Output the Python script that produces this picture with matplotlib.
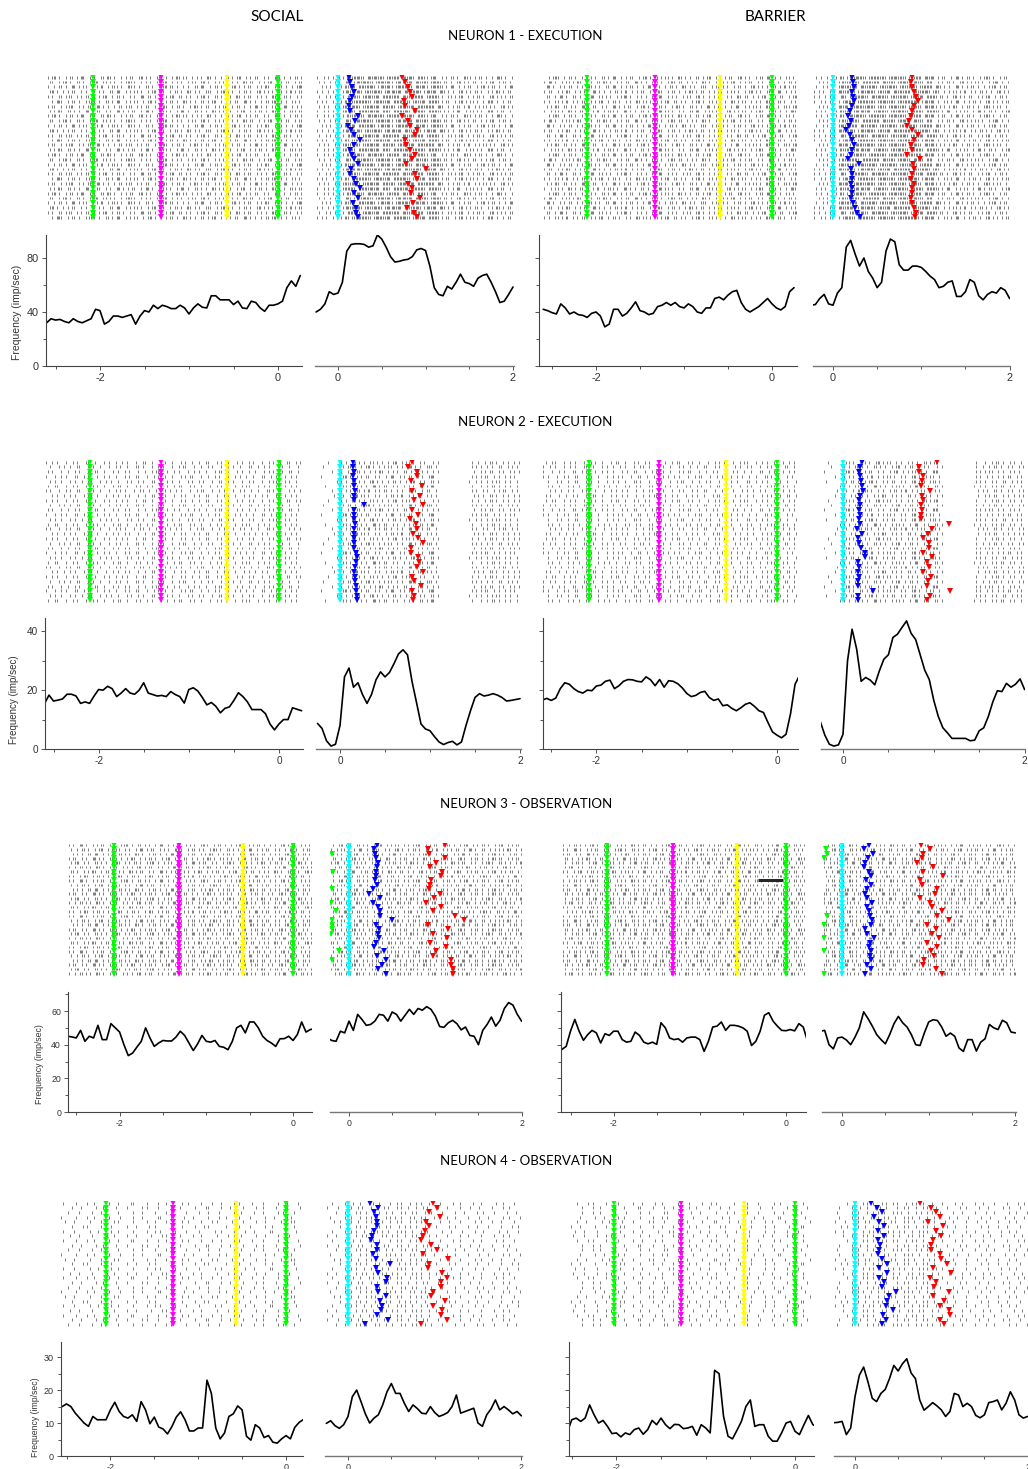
import numpy as np
import matplotlib.pyplot as plt
from matplotlib.ticker import MultipleLocator

plt.rcParams['font.family'] = ['Liberation Sans', 'DejaVu Sans']
plt.rcParams['axes.unicode_minus'] = False

W, H = 1028, 1469
BIN = 0.025  # one character of a raster row = 25 ms

# time grid of the rate curves (s): 'pre' aligned on the last green event, 'post' on cyan
t_pre = np.round(np.arange(-2.60, 0.251, 0.05), 2)
t_post = np.round(np.arange(-0.25, 2.001, 0.05), 2)

# --- firing rate (imp/sec) ---
n1_social_pre = [32, 35, 34, 34.5, 33, 32, 35, 33, 32, 33.5, 35, 42, 41, 31, 33, 37, 37, 36, 37, 38,
                 31, 37, 41, 40, 45, 42.5, 45, 44, 42.5, 42.5, 45, 43, 38.5, 43, 46, 43.5, 43, 52, 52, 49,
                 49, 49, 45.5, 48, 43, 42.5, 48, 47, 43, 40.5, 45, 45, 46, 48, 58, 63, 59, 67]
n1_social_post = [40, 42, 46, 55, 53, 54, 62, 85, 90, 90.5, 90.5, 90, 88, 89, 97, 94, 88, 81, 77, 77.5,
                  78.5, 79, 81, 86, 87, 85.5, 74, 58, 53, 52, 59, 57, 62, 68, 62, 61, 59, 65, 67, 68,
                  62, 55, 47, 48, 53, 58.5]
n1_barrier_pre = [42, 41, 39.5, 38.5, 46, 43, 38.5, 40, 38, 37.5, 36, 39, 40, 37, 29, 31, 42, 42, 37, 39,
                  43, 47.5, 41, 40, 38, 39, 44, 45, 47, 45, 47, 44, 43, 46, 44, 40, 39, 43, 43, 50,
                  51, 49, 52.5, 55, 56, 47, 42, 40, 42, 44, 47, 50, 46, 43, 41.5, 44, 55, 58]
n1_barrier_post = [45, 45.5, 50, 53, 46, 45, 54, 58, 88, 93, 83, 74, 80, 70, 65, 58, 62, 85, 94, 92,
                   75, 71, 71, 74, 74, 73, 70, 66.5, 64, 58, 59, 62, 63, 51.5, 51.5, 55, 64, 62, 52, 49,
                   53, 55, 54, 58, 56, 50]

n2_social_pre = [15.4, 18.3, 16.3, 16.6, 17, 18.6, 18.6, 18, 15.5, 16, 15.5, 18, 20.2, 20, 21.3, 20.5,
                 17.8, 19, 20.5, 19, 18.6, 20, 22.5, 19, 18.5, 18, 18.2, 17.8, 19.5, 18.5, 17.8, 15.6,
                 20.2, 20.8, 19.7, 17.5, 15, 15.8, 14.5, 12.3, 13.8, 14.3, 16.5, 19.1, 17.8, 16, 13.4,
                 13.4, 13.4, 12, 8.5, 6.5, 8.5, 10, 10, 14, 13.5, 13]
n2_social_post = [8.7, 7, 2.8, 1, 1.6, 8, 24.5, 27.5, 21, 22.5, 18.5, 15.5, 18.5, 23.5, 26.2, 24.5, 26,
                  29, 32.3, 33.7, 32, 23, 15.8, 8.5, 6.8, 6.2, 4.2, 2.4, 1.5, 2.2, 2.6, 1.4, 2.4, 8, 13,
                  17.5, 18.8, 18, 18.3, 18.8, 18.3, 17.5, 16.3, 16.5, 16.8, 17.1]
n2_barrier_pre = [16.6, 17.2, 16.5, 17.3, 20.5, 22.5, 22, 20.5, 19.5, 19, 20, 19.8, 21.4, 21.7, 23, 23.4,
                  20.5, 21.5, 23, 23.6, 23.5, 23, 22.8, 24.5, 23.5, 21.5, 23.6, 21, 23.2, 23, 22.2, 20.8,
                  18.9, 17.8, 18.2, 19.2, 19.6, 17.5, 16.5, 17, 14.7, 15, 13.8, 13, 14, 15.2, 15.7,
                  14.5, 13, 12.4, 9, 5.8, 4.7, 3.8, 5, 12, 22, 25]
n2_barrier_post = [9.3, 4.7, 1.6, 1, 1.4, 5, 30, 40.7, 34, 23, 24.3, 23.4, 21.8, 26.5, 30.5, 32, 37.9, 39,
                   41.3, 43.5, 39.3, 37.2, 32, 26.8, 23.6, 16.5, 11, 7.2, 5.5, 3.6, 3.6, 3.6, 3.6, 2.8,
                   3, 6.2, 7.2, 11, 16, 19.8, 19.5, 22.3, 21, 22, 23.8, 20.2]

n3_social_pre = [45, 44.6, 44, 48.5, 42, 45, 44, 51.5, 43, 43, 52.5, 50, 47.5, 40, 33.5, 35, 38.6, 42, 50,
                 44, 39, 41, 42.5, 42.2, 42.2, 44.5, 48, 45.5, 41, 36.5, 40.5, 45.5, 42, 41.5, 42.5, 39,
                 38.5, 37, 42, 50, 51.5, 47, 53.5, 53.5, 50, 45, 42.5, 41, 39, 43.5, 43.6, 45, 42.5,
                 46, 53.5, 47.5, 49, 49.5]
n3_social_post = [44, 42.5, 42, 48, 47, 54, 48.5, 58, 55, 51.5, 52, 54, 58, 57.5, 54, 59.4, 58, 54, 57.5,
                  61, 58, 61.5, 60.5, 62.6, 61, 57, 50.8, 50.3, 53, 54.5, 52.5, 48.8, 50.5, 45.5, 45,
                  40, 48.5, 52, 56.4, 51, 54.5, 61.5, 65, 63.5, 58, 54]
n3_barrier_pre = [37.2, 39, 48, 55, 48, 42.6, 46, 48.5, 47, 41, 46.5, 45.5, 48, 48, 43, 41.5, 42, 47.5,
                  45.5, 41.5, 40.5, 41.5, 40.2, 53, 50, 44, 43, 43.5, 41.5, 44, 44.5, 44.5, 43, 36, 42,
                  50.5, 51, 53.5, 48.5, 51.5, 51.5, 51, 50, 48, 39.5, 42, 48, 57.5, 59, 54, 51, 48.5,
                  48.3, 49, 48.2, 52.5, 50.5, 42]
n3_barrier_post = [48, 48.5, 40, 37.5, 44, 44.5, 42.8, 40, 44.5, 50, 59.5, 55.5, 51, 46, 43, 40.5, 46,
                   52.5, 56.8, 53, 50.5, 46, 40, 39.5, 47, 53.5, 54.8, 54.4, 50.5, 45, 46.9, 45, 38, 36,
                   43, 43, 36.2, 41.5, 43.5, 52, 50, 49, 54.5, 53, 47.5, 47]

n4_social_pre = [14.5, 15, 15.8, 15, 13, 11.5, 10, 9, 12, 11, 11, 11, 14, 16.3, 13.5, 12, 11.5, 12.5,
                 10.5, 16.5, 14, 9.8, 11.8, 8.8, 8.2, 6.7, 8.9, 11.8, 13.4, 11, 7.6, 7.6, 8.5, 8.5, 23,
                 19, 8.5, 5.2, 7, 12, 12.8, 15.2, 14, 6, 4.8, 9.5, 8.5, 5.6, 6.2, 4.2, 3.9, 5.2, 6.2,
                 5.2, 8.7, 10.2, 11.1, 11.2]
n4_social_post = [9.9, 10.7, 9.2, 8.4, 9.5, 12, 18, 20, 16.5, 12.8, 10, 11.5, 12.5, 15.5, 19.5, 22, 19,
                  19, 16, 13.5, 15.5, 14.4, 13, 12.8, 15, 13.2, 12, 12.5, 13.2, 15, 18.5, 13, 13.5, 14,
                  14.5, 10, 9, 12.5, 14.3, 17, 14, 15, 14, 12.8, 13.5, 12.2]
n4_barrier_pre = [7, 7.2, 11, 11.5, 10.5, 11.5, 15.5, 12.5, 10, 10.8, 9, 6.8, 7, 5.8, 7, 6.5, 8, 8.5,
                  6.6, 8, 10.8, 9.5, 11.5, 9.5, 8.3, 9.6, 9.5, 8.3, 8.5, 9, 6.3, 9.5, 8.5, 7, 26, 25,
                  12, 6, 5.2, 7.8, 10.5, 15, 17, 9, 9.5, 9.5, 6, 4.5, 4.5, 7, 10, 10.5, 7.5, 6.5, 9.5,
                  12.3, 9.5, 8.9]
n4_barrier_post = [10.1, 10.2, 10.5, 6.5, 8.5, 18, 24.5, 27, 22.5, 17.5, 16.5, 19, 20.2, 23.5, 27.5,
                   25.8, 28, 29.5, 25.2, 23.5, 17, 13.9, 15, 16.2, 15.2, 14, 12, 13.5, 19, 18.5, 15, 16,
                   15, 12.3, 11.6, 12.5, 16.2, 16.5, 17, 14, 16, 19.5, 17, 12.5, 11.5, 12]

# --- behavioural events ---
# pre panels: green, magenta, yellow, green (s)
n1_social_ev = [-2.08, -1.31, -0.57, 0.0]
n1_barrier_ev = [-2.10, -1.33, -0.59, 0.0]
n2_social_ev = [-2.09, -1.31, -0.58, 0.0]
n2_barrier_ev = [-2.08, -1.31, -0.57, 0.0]
n3_social_ev = [-2.07, -1.31, -0.58, 0.0]
n3_barrier_ev = [-2.08, -1.31, -0.57, 0.0]
n4_social_ev = [-2.05, -1.29, -0.57, 0.0]
n4_barrier_ev = [-2.03, -1.28, -0.57, 0.0]

# post panels: blue and red event of each trial (cyan is at 0)
n1_social_blue = [0.12, 0.14, 0.16, 0.18, 0.16, 0.14, 0.12, 0.14, 0.23, 0.19, 0.11, 0.15, 0.18, 0.25, 0.18,
                  0.14, 0.16, 0.18, 0.23, 0.15, 0.14, 0.18, 0.2, 0.25, 0.18, 0.23, 0.17, 0.2, 0.21, 0.23]
n1_social_red = [0.73, 0.77, 0.8, 0.82, 0.84, 0.75, 0.77, 0.88, 0.73, 0.8, 0.82, 0.9, 0.88, 0.77, 0.78,
                 0.82, 0.88, 0.84, 0.78, 1.01, 0.88, 0.9, 0.8, 0.85, 0.83, 0.94, 0.86, 0.79, 0.87, 0.9]
n1_barrier_blue = [0.21, 0.23, 0.24, 0.22, 0.23, 0.24, 0.22, 0.19, 0.17, 0.2, 0.18, 0.15, 0.19, 0.22, 0.24,
                   0.22, 0.2, 0.17, 0.29, 0.2, 0.21, 0.22, 0.2, 0.21, 0.22, 0.2, 0.23, 0.25, 0.27, 0.31]
n1_barrier_red = [0.9, 0.88, 0.9, 0.92, 0.94, 0.96, 0.92, 0.9, 0.88, 0.86, 0.84, 0.9, 0.96, 0.92, 0.88,
                  0.9, 0.84, 0.98, 0.91, 0.92, 0.9, 0.88, 0.92, 0.9, 0.89, 0.88, 0.9, 0.92, 0.94, 0.93]
n2_social_blue = [0.14, 0.14, 0.15, 0.14, 0.15, 0.16, 0.17, 0.16, 0.15, 0.27, 0.15, 0.16, 0.16, 0.17, 0.16,
                  0.15, 0.16, 0.15, 0.16, 0.18, 0.19, 0.18, 0.17, 0.16, 0.17, 0.17, 0.18, 0.18, 0.19, 0.19]
n2_social_red = [0.80, 0.76, 0.86, 0.85, 0.79, 0.91, 0.80, 0.89, 0.82, 0.92, 0.80, 0.87, 0.78, 0.84, 0.85,
                 0.81, 0.87, 0.92, 0.79, 0.79, 0.87, 0.88, 0.86, 0.92, 0.80, 0.82, 0.90, 0.80, 0.82, 0.81]
n2_barrier_blue = [0.21, 0.19, 0.18, 0.19, 0.2, 0.21, 0.22, 0.19, 0.18, 0.19, 0.18, 0.19, 0.18, 0.19, 0.15,
                   0.21, 0.16, 0.18, 0.2, 0.24, 0.24, 0.17, 0.18, 0.17, 0.18, 0.17, 0.17, 0.33, 0.16, 0.17]
n2_barrier_red = [1.03, 0.84, 0.84, 0.88, 0.87, 0.86, 0.96, 0.87, 0.88, 0.86, 0.87, 0.86, 0.86, 1.17, 0.98,
                  0.94, 0.88, 0.95, 0.95, 0.88, 0.98, 0.93, 0.95, 0.88, 0.97, 0.94, 0.93, 1.18, 0.96, 0.93]
n3_social_blue = [0.32, 0.29, 0.3, 0.31, 0.34, 0.32, 0.31, 0.31, 0.3, 0.32, 0.28, 0.23, 0.36, 0.28, 0.34,
                  0.36, 0.36, 0.5, 0.31, 0.35, 0.34, 0.35, 0.31, 0.29, 0.41, 0.32, 0.43, 0.38, 0.34, 0.43]
n3_social_red = [1.11, 0.92, 0.93, 1.11, 1.01, 0.94, 1.08, 1.07, 0.95, 0.94, 0.93, 1.05, 0.99, 0.89, 1.07,
                 0.97, 1.23, 1.33, 0.92, 1.15, 0.97, 1.13, 0.94, 1.12, 1.01, 0.97, 1.18, 1.18, 1.2, 1.2]
n3_barrier_blue = [0.31, 0.25, 0.36, 0.3, 0.27, 0.25, 0.31, 0.33, 0.28, 0.33, 0.29, 0.27, 0.29, 0.35, 0.29,
                   0.31, 0.32, 0.35, 0.33, 0.27, 0.29, 0.37, 0.32, 0.31, 0.33, 0.32, 0.33, 0.29, 0.33, 0.26]
n3_barrier_red = [0.91, 1.01, 0.94, 0.92, 0.86, 1.05, 0.94, 1.17, 0.9, 0.92, 1.1, 1.07, 0.9, 1.01, 1.04,
                  1.15, 1.1, 1.23, 0.98, 1.08, 1.04, 1.12, 0.98, 1.09, 1.03, 1.06, 0.95, 0.93, 1.08, 1.15]
n4_social_blue = [0.25, 0.35, 0.3, 0.32, 0.33, 0.33, 0.3, 0.28, 0.27, 0.34, 0.33, 0.29, 0.32, 0.49, 0.32,
                  0.35, 0.45, 0.44, 0.33, 0.35, 0.44, 0.37, 0.39, 0.38, 0.33, 0.46, 0.2]
n4_social_red = [0.98, 1.03, 0.94, 1.06, 0.9, 0.93, 0.89, 0.87, 0.84, 0.96, 1.03, 0.87, 1.15, 0.94, 0.92,
                 1.08, 1.14, 1.07, 1.07, 0.98, 0.96, 1.12, 0.98, 1.08, 1.07, 1.14, 0.84]
n4_barrier_blue = [0.19, 0.26, 0.31, 0.22, 0.28, 0.34, 0.27, 0.34, 0.27, 0.29, 0.28, 0.27, 0.31, 0.37, 0.28,
                   0.37, 0.28, 0.34, 0.31, 0.48, 0.39, 0.37, 0.36, 0.44, 0.32, 0.36, 0.31]
n4_barrier_red = [0.75, 0.88, 0.94, 0.98, 0.85, 1.02, 0.94, 1.0, 0.9, 0.88, 0.88, 0.99, 1.0, 1.07, 0.9,
                  1.11, 0.87, 0.94, 0.91, 1.09, 0.9, 1.03, 0.99, 1.09, 1.1, 0.99, 1.03]

# early green events seen at the left edge of the neuron 3 post panels (trial, time)
n3_social_early_rows = [2, 6, 10, 13, 15, 17, 18, 19, 20, 24, 26]
n3_social_early_t = [-0.2, -0.18, -0.2, -0.21, -0.15, -0.2, -0.2, -0.2, -0.21, -0.12, -0.2]
n3_barrier_early_rows = [1, 2, 3, 16, 18, 21, 24, 29]
n3_barrier_early_t = [-0.19, -0.17, -0.21, -0.17, -0.21, -0.21, -0.21, -0.21]
# burst in one barrier trial of neuron 3 (trial, start, end)
n3_barrier_burst = (8, -0.32, -0.03)

# --- spike rows: '|' one spike, ':' two spikes in a 25 ms bin (spaces are ignored) ---
n1_pre_rows = [
    "|.|:.|..|. ||.|.:|..| .|..||.:|. |..|.|.||. .|:.|.|..| ||.|..|.:| .||..|.|.| ..:|.|..|. ||.|.|:..| .|.||..|.| ..|:|.|..| .||.|.:.|.",
    ".||..|.|:. |..||.|..| .|:..||.|. |..|.||:.| ..|.|.|..| |.|:..|.|. |..|.||..| :.|..|.|.| |..|.|..:| .||..|.|.| :..|.|.||. .|.|:..|.|",
    "|..|.||.|. .:|.|.||.. |.|.:..|.| ||.|..|:.| .|..||.|.. |.|:.||.|. .|.|..||.: |..|.||.|. |..|:.|.|. ||..|.|.:| ..|.||.|.. |.|:|.|.||",
    ".|:.|..|.| .||..|.|.. :|.|.|..|| .|:..|.|.| |.|..|.|:. |.|..|.||. |..:|.|.|. .|||..|.|: .|.|..|.|| .|..|:.|.| .|..||.|.: .|.||.|..|",
    "|.|..||.|. :..|.|.||. .|.|.|:..| .||.|..|.| ..:|.||.|. .|.|.|:..| |.|.|..|.| :.|..||.|. |.|..:|.|. ||..|.|.|. .:|.|.||.| ..|.|:.|.|",
    "..|.|:|..| .||.|..|.: .|.|..||.| .|:..|.|.| |..|.|:.|. .|.|.||.|. .:|.|.|..| |.|.|:..|. |.|.||..|: .|.|..|.|| .|:..|.|.. ||.|.|:.|.",
    "|.||..|.|. :|..|.|.|| ..|:.|.|.. |.||.|.:.. |.|.||..|. |.:|..|.|| .|..|.:|.| .||..|.|.| :..|.||.|. .|.|:.|.|. .||.|.|:.. |.|.||.|..",
    ".|.|.:|..| |.|.|..|:. |.||..|.|. .|:.|.|.|| ..|.|:.|.. |.||.|..|. :|.|..||.| .|..:|.|.| |.|..|.|:. .|.|.||.|. .:|.|.|..| ||.|:.|.|.",
]
n1_post_rows = [
    "|..|.|.|.. |.|.:||:|: ||.|:|:||: |.|:||:|.| :|:||.|:|| |.|:|..|.| .||.|..|:. |.|.||.|.. |.|:|.|..| .|.|.||.|.",
    ".|.|..|.|. |..|:|.||: |:|:||.|:| :|:||.|:|| :|:|.|:||: |.|:|:|.|| .|..|:.|.| .||..|.|.| :..|.||.|. |..|.|.:|.",
    "..|.|.|..| .|.:||:|.| :||:|:|.|| :|:||.|:|: |:||.|:|:| |.|:|:||.| .|:..|.|.| |..|.|:.|. ||.|..|.|: .|.|.|.||.",
    "|.|..|.|.| ..||:|:||: |.|:||:|:| .|:||:|:|. |:||:|:|.| |:|:|.|:|. |.|..|:.|. |.||.|..|. |.:|.|.||. .|.|.|:..|",
    ".|..|.|.|| ..|.|:|:|| .|:|:||:|. |:|:||:|.| :||:|:|:|. ||:|:|.|.. ||.|.|:..| .|.||.|..| :.|.|.|.|| ..|.|:.|.|",
    "|.|.|..|.| .|.:|.||:| :|:||.|:|: ||:|.|:|:| :||.|:||:| .|:|:|.|.| |..|.|:.|. ||.|..|.|: |.|..|.||. |.|..|:.|.",
    ".|.|.|..|. |.|:||:|:| .||:|:|:|. |:||:|.|:| :||:|.|:|| :|:|.|:|.. |.|.||.|.: ..|.|.||.| .|..|:.|.| .||.|..|.|",
    "|..|.|.|.| ..|:|:||.| :|:||:|:|. |:||.|:|:| |:|.|:|:|| .|:|:||.|. |.|.:|..|. ||.|.|..|: |.|.||..|. |.|:..|.|.",
]
n2_pre_rows = [
    "|..|.|...| ..|.|...|| ..|...|.|. .|..|.|... |..||..|.. .|.|..|... |.|..|..|. .||...|.|. .|...|.|.. |.|...|..| .|..|..||. .|.|...|..",
    "..|...|.|. .|..||...| .|..|...|. .|.|..|... ||.|...|.. |.|...|..| .||...|..| ..|.|...|. .|.|..|... ||..|..|.| ...|.|..|. ..|.|..|..",
    ".|.|...|.. |..|.|...| ..||..|... |.|..|.|.. .|..|..|.| |...|..|.| ...|..|.|. .|...|.||. .|...|.|.. |..|...|.| .|...|..|| ..|.|..|..",
    "|...|..|.| ...||..|.| ...|..|.|. .|...|.|.. ||...|..|. |..|..|... |.|.||...| ..|..|.|.. .|..|.|..| ..|...||.. |.|...|..| .|..|...|.",
    "..|.|..|.. .|.|..|..| |...|..|.| ..|...|.|. .|.|...||. .|..|.|..| ...|.|..|. |...|..||. .|.|...|.. |.|...|..| .||...|.|. .|..|...|.",
    ".|..||...| ..|.|...|. .|.|..|... |.||..|... |.|..|.|.. .|..|..|.| |...|.|..| ...|..|.|. |...|..|.| |...|..|.| ..|...|..| .|..||...|",
    "|.|...|..| .|..||...| .|..|...|. .|.|.|...| ..||..|..| ...|.|..|. |...|..|.| |...|..|.| ...|..|.|. .|..|...|| .|..|...|. |..|.|...|",
    "...|.|..|. .|.|...|.| |..|...|.. |.|..|.|.. .|..|..||. .|.|...|.. |.|...|.|. .||...|..| .|..|...|. |..|..|.|. ..||..|..| .|...|.|..",
]
n2_post_rows = [
    "....|..... |.|..|:.|. |..||.|.|. .|.|:..|.| |.|..|.|.. .|.|...... ........|. .|..|.||.| ..|.|..|.| .|..|.|..|",
    "..|....... .|.||.|..| .|:.|..|.| .||..|.|.. |:.|.|..|| |.|....... ........|. |.|..|.|.. ||..|.|.|. .|.|..|.|.",
    "......|... |..|.|.||. |..|.|.:|. .|.|.|..|| .|..|.|.|. .|.|...... .........| ..|.|.||.. |.|..|.|.| |..|.|..|.",
    ".|........ .|:.|..|.| .||..|.|.. |.|:..|.|. ||..|.|..| :|........ ........|. |.|.||..|. |..|.|.|.. |.|..|.|.|",
    "........|. |.|..||.|. |..|:.|.|. .|.||.|..| .|:..|.|.. ||.|...... .......|.. |.|..|.|.| |..|.|..|. .|..|.||.|",
    "...|...... .||.|..|.| .|..|:.|.| |..|.|..|. |.|..||.|. :|........ ........|. ..|..|.||. |..|.|..|. |.|..|.|.|",
    "......|... |.|.|..||. |.:..|.|.| |.|..|.|.. |:.|..|.|| ..|....... ........|. |..|.|..|. |.||..|.|. .|..|..|.|",
    ".......|.. .|..|.|:.| |.|..|.|.. |.||.|.:.. |.|.||..|. |.|....... .........| .|.|..||.| ..|.|..|.| .|.|..|.|.",
]
n3_pre_rows = [
    "|.|..|:.|. .|.|.||..| .|..|.:|.| ..||.|.|.. |.|:..|.|. ||..|.|.|. .|:.|..|.| |.|..|.|.: |..|.|.||. |..|.|..|: .|.||..|.| .|..|.:|.|",
    ".|..|.||.| ..|.|:..|. |.||..|.|. .|.:|.|.|| ..|.|.|..| :.|..|.||. |.|..|.:|. |..||.|.|. .|.|:..|.| .||..|.|.. |.|:.|..|. ||.|.|..|.",
    "..|.|.|..| |.|:..|.|. |..||.|.|. .:|.|..|.| |.|..|.|:. |.|..|.||. .|.|.:|..| .|.||.|..| .|..:|.|.| |..|.|.|.. |:.|..|.|| .|.|..|.:|",
    "|.||..|.|. .|:.|.|..| |.|.|..|.: |..|.|.||. |..|.|:..| .|.||..|.| ..|.:|.|.. ||.|.|..|. |:..|.||.| ..|.|..|:. |.|.||..|. |..|.:|.|.",
    ".|.|:..|.| ..||.|.|.. |.:|..|.|. ||.|..|.:| .|..|.||.. |.|.|..:|. |.||..|.|. .|.|:.|..| |.|.|..|.: |..|.||.|. .|..|.:|.| ..||.|.|..",
    "|..|.||.|. |..:|.|..| .||..|.|.| ..:|.|.||. .|.|..|.|: ..|.||.|.. |.|.:|..|. |.||..|.|. .|:.|.|..| |.|..|.|.: |..|.|.||. |.|..|.:|.",
    ".||.|..|.| .:|..|.||. |..|.|..:| .|.||..|.| ..|:.|.|.| |..|.|..|. :|..|.|.|| .|..|.|:.. |.|.||..|. |.|..:|.|. .||.|.|..| :.|.|.||..",
    "|.|..|.|:. .|.||.|.|. .|.:|..|.| |.|..|.|:. .|.|.||..| .|.|.|.:.. |.||.|.|.. |.:|.|..|| .|.|..:|.| .||..|.|.. |.:|.|.||. .|.|.|..:|",
]
n3_post_rows = [
    "|.|..|:.|. |..||.|.|. .|.|:..|.| .||..|.|.| .:|..|.|.| |..|.||.|. .|.|:..|.| .||.|..|.| :..|.|.||. |.|..|:.|.",
    ".|..|.||.| ..|.|:..|. |.||..|.|. .|:.|..|.| |.|..||.|. :..|.|.|.| |..|.|:.|. .||..|.|.| .|.:|..|.| |.|..|.||.",
    "..|.|.|..| |.|:..|.|. |.||.|..|. :|.|..|.|| ..|.|:.|.. |.||.|..|. |.:|.|..|| .|..|.|:.| .|..|.||.| ..|:.|.|.|",
    "|.||..|.|. .|:.|.|..| |.|.|..:|. .|.|.||..| .|..:|.|.| ..||.|.|.. |:.|..|.|| .|..|.:|.| |..|.|.||. .|:.|..|.|",
    ".|.|:..|.| ..||.|.|.. |.:|..|.|. ||.|..|.:| .|..|.||.. |.|.|..:|. |.||..|.|. .|.|:.|..| |.|.|..|.: |..|.||.|.",
    "|..|.||.|. |..:|.|..| .||..|.|.| ..:|.|.||. .|.|..|.|: ..|.||.|.. |.|.:|..|. |.||..|.|. .|:.|.|..| |.|..|.|.:",
    ".||.|..|.| .:|..|.||. |..|.|..:| .|.||..|.| ..|:.|.|.| |..|.|..|. :|..|.|.|| .|..|.|:.. |.|.||..|. |.|..:|.|.",
    "|.|..|.|:. .|.||.|.|. .|.:|..|.| |.|..|.|:. .|.|.||..| .|.|.|.:.. |.||.|.|.. |.:|.|..|| .|.|..:|.| .||..|.|..",
]
n4_pre_rows = [
    "..|.....|. ...|..|... ...|...|.. ...||..... |....|...| ......|..| .....|.... |...|..... |.|.....|. ...|...... |...|....| .....|..|.",
    "|.....|... |......|.. |.....|... .|......|. |....|.... .|...|.... ..|....||. ....|...|. ....|..... |..|.....| ....|..... |...|.....",
    "....|....| .....|...| .|.....|.. ....|...|. ....|....| .|......|. ....|...|. ...|...... |..|.....| ...|...... |.|....|.. ...|....|.",
    ".|......|. ...|..|... ...|....|. ....|...|. .....||... .|.....|.. .|......|. ...|..|... ..|....|.. ....|...|. ....|.|... ..|....|..",
    "...|...|.. ....|....| .....|.|.. ....|..... |...|....| ......|..| .....|.... |.|......| ....|..... |...|..... .|....||.. ...|...|..",
    "......|... .|.|.....| ....|..... .|...|.... .|..|..... .|....|... ..|...|.|. ......|... ..|....|.. ....|..|.. ...|...|.. ...|....|.",
    "..|....|.. ....|...|. ....|..|.. ....|..... |...|.|... ...|....|. ....|..... .|..|..... |....|...| ......||.. ...|....|. ....|...|.",
    "|....|...| .....|.... ..|..|.... .|...|.... ..|....|.| .....|.... .|...|.... ..|....|.. |..|...... |...|..... |....|.... ..|.|....|",
]
n4_post_rows = [
    "..|.....|. ..|..|...| .|..|....| ..|.|...|. .|.|...|.. ..|.....|. .|.....|.. .|......|. .|....|... |.|...|...",
    "|....|.... .|..|.|... |..|..|.|. ..|.|..|.. .|..|.|... .|...|.... .|....|... |.....|... .|..|..... |..|....|.",
    "....|...|. ...|.|..|. ..|.|..|.. |...|.|..| .|...|..|. ...|.....| ...|.....| ..|....|.. ...|...|.. ...|....|.",
    ".|......|. .|...|..|. |..|...|.| .|..|...|. |..|.|...| .....|...| .....|.... |...|..... .|..|....| ..|...|...",
    "...|..|... .|..|...|. |.|..|...| ..|.|...|. .|.|..|... ..|...|... .|......|. .|....|... |.....|... |...|.....",
    "......|..| ...|.|..|. ..|.|..|.| ...|..|.|. .|...|.... |.....|..| .....|...| ....|..... |....|..|. ...|..|...",
    "..|.....|. .|.|...|.. |..|.|..|. ..|.|.|..| ...|..|... ...|...|.. ..|.....|. ..|......| ...|....|. |.|.......",
    "|...|....| ...|..|.|. .|...|.|.. |.|...|..| .|.|...|.. |....|.... .|...|.... .|.....|.. .|..|..... |...|....|",
]

neurons = [
    dict(title="NEURON 1 - EXECUTION", n=30,
         rates=[n1_social_pre, n1_social_post, n1_barrier_pre, n1_barrier_post],
         ev=[n1_social_ev, n1_barrier_ev], blue=[n1_social_blue, n1_barrier_blue],
         red=[n1_social_red, n1_barrier_red], pre_rows=n1_pre_rows, post_rows=n1_post_rows),
    dict(title="NEURON 2 - EXECUTION", n=30,
         rates=[n2_social_pre, n2_social_post, n2_barrier_pre, n2_barrier_post],
         ev=[n2_social_ev, n2_barrier_ev], blue=[n2_social_blue, n2_barrier_blue],
         red=[n2_social_red, n2_barrier_red], pre_rows=n2_pre_rows, post_rows=n2_post_rows),
    dict(title="NEURON 3 - OBSERVATION", n=30,
         rates=[n3_social_pre, n3_social_post, n3_barrier_pre, n3_barrier_post],
         ev=[n3_social_ev, n3_barrier_ev], blue=[n3_social_blue, n3_barrier_blue],
         red=[n3_social_red, n3_barrier_red], pre_rows=n3_pre_rows, post_rows=n3_post_rows),
    dict(title="NEURON 4 - OBSERVATION", n=27,
         rates=[n4_social_pre, n4_social_post, n4_barrier_pre, n4_barrier_post],
         ev=[n4_social_ev, n4_barrier_ev], blue=[n4_social_blue, n4_barrier_blue],
         red=[n4_social_red, n4_barrier_red], pre_rows=n4_pre_rows, post_rows=n4_post_rows),
]

# --- layout in pixels ---
# raster top/bottom, curve top/bottom
rows_px = [(75, 220, 235, 366), (460, 603, 618, 749), (843, 976, 992, 1112), (1201, 1327, 1342, 1456)]
# each column: left, right, pixel of t=0, pixels per second
cols_px = [
    [(46, 302, 278, 89), (315, 514, 338, 87.5), (539, 797, 772, 88), (813, 1010, 833, 88.3)],
    [(45, 303, 279, 90.2), (316, 521, 340, 90), (543, 798, 777, 90.3), (821, 1025, 843, 90.8)],
    [(68, 312, 293, 86.7), (330, 522, 349, 86.3), (561, 806, 786, 86.2), (822, 1016, 842, 86.7)],
    [(61, 303, 286, 87.8), (325, 522, 348, 86.7), (569, 814, 795, 89.3), (834, 1028, 855, 86.3)],
]
title_px = [(525, 36), (535, 422), (526, 804), (526, 1161)]
ylabel_px = [(17, 312), (14, 700), (40, 1064), (36, 1417)]
ymax = [97, 44.5, 71.3, 34.6]
ystep = [(40, 20), (20, 10), (20, 10), (10, 5)]
fs_tick = [7.8, 7.2, 6.3, 6.5]
fs_lab = [7.5, 7, 6.3, 6.2]

fig = plt.figure(figsize=(W / 100, H / 100), dpi=100)


def box(l, r, t, b):
    return fig.add_axes([l / W, 1 - b / H, (r - l) / W, (b - t) / H])


def spikes(ax, rows, order, t0, n):
    xs, ys = [], []
    for i in range(n):
        for k, c in enumerate(rows[order[i]].replace(' ', '')):
            if c == '|':
                xs.append(t0 + (k + 0.5) * BIN)
                ys.append(i)
            elif c == ':':
                xs += [t0 + (k + 0.25) * BIN, t0 + (k + 0.75) * BIN]
                ys += [i, i]
    ys = np.array(ys)
    ax.vlines(xs, ys + 0.15, ys + 0.75, colors='0.35', lw=0.55)


def tri(ax, x, rows, color):
    ax.plot(x, np.asarray(rows) + 0.45, 'v', color=color, ms=4.5, mew=0, zorder=3)


fig.text(277 / W, 1 - 17 / H, "SOCIAL", ha='center', va='center', family='Lato', fontsize=11)
fig.text(775 / W, 1 - 17 / H, "BARRIER", ha='center', va='center', family='Lato', fontsize=11)

for k, nr in enumerate(neurons):
    rt, rb, pt, pb = rows_px[k]
    n = nr['n']
    fig.text(title_px[k][0] / W, 1 - title_px[k][1] / H, nr['title'], ha='center', va='center',
             family='Lato', fontsize=9.5)
    fig.text(ylabel_px[k][0] / W, 1 - ylabel_px[k][1] / H, "Frequency (imp/sec)", rotation=90,
             ha='center', va='center', fontsize=fs_lab[k], color='#333333')

    for c in range(2):  # 0 = social, 1 = barrier
        if c == 0:
            order = [i % 8 for i in range(n)]
        else:
            order = [(3 * i + 5) % 8 for i in range(n)]
        for j in range(2):  # 0 = pre, 1 = post
            l, r, x0, ppu = cols_px[k][2 * c + j]
            xlim = ((l - x0) / ppu, (r - x0) / ppu)

            # raster
            ax = box(l, r, rt, rb)
            ax.set_xlim(*xlim)
            ax.set_ylim(n, 0)
            ax.axis('off')
            if j == 0:
                spikes(ax, nr['pre_rows'], order, t_pre[0], n)
                for x, col in zip(nr['ev'][c], ['#00ff00', '#ff00ff', '#ffff00', '#00ff00']):
                    tri(ax, [x] * n, range(n), col)
                if k == 2 and c == 1:
                    b_row, b_t0, b_t1 = n3_barrier_burst
                    ax.hlines(b_row + 0.45, b_t0, b_t1, color='0.15', lw=2.2)
            else:
                spikes(ax, nr['post_rows'], order, t_post[0], n)
                tri(ax, [0.0] * n, range(n), '#00ffff')
                tri(ax, nr['blue'][c], range(n), '#0000ff')
                tri(ax, nr['red'][c], range(n), '#ff0000')
                if k == 2:
                    er = n3_social_early_rows if c == 0 else n3_barrier_early_rows
                    et = n3_social_early_t if c == 0 else n3_barrier_early_t
                    tri(ax, et, er, '#00ff00')

            # rate curve
            ax2 = box(l, r, pt, pb)
            t = t_pre if j == 0 else t_post
            v = nr['rates'][2 * c + j]
            ax2.plot(t[:len(v)], v[:len(t)], color='black', lw=1.2,
                     solid_joinstyle='round', solid_capstyle='round')
            ax2.set_xlim(*xlim)
            ax2.set_ylim(0, ymax[k])
            ax2.patch.set_alpha(0)
            for s in ['top', 'right']:
                ax2.spines[s].set_visible(False)
            ax2.xaxis.set_major_locator(MultipleLocator(2))
            ax2.xaxis.set_minor_locator(MultipleLocator(0.5))
            ax2.yaxis.set_major_locator(MultipleLocator(ystep[k][0]))
            ax2.yaxis.set_minor_locator(MultipleLocator(ystep[k][1]))
            ax2.tick_params(which='both', direction='out', colors='#555555', labelcolor='#333333',
                            labelsize=fs_tick[k], width=0.7, pad=2)
            ax2.tick_params(which='major', length=3)
            ax2.tick_params(which='minor', length=2)
            if j == 1:
                ax2.spines['left'].set_visible(False)
                ax2.tick_params(axis='y', which='both', left=False, labelleft=False)
                ax2.spines['bottom'].set_color('#777777')
                ax2.spines['bottom'].set_linewidth(1.0)
            else:
                for s in ['left', 'bottom']:
                    ax2.spines[s].set_color('#444444')
                    ax2.spines[s].set_linewidth(0.8)
                if c == 1:
                    ax2.tick_params(axis='y', labelleft=False)

fig.savefig('out.png', dpi=100)
